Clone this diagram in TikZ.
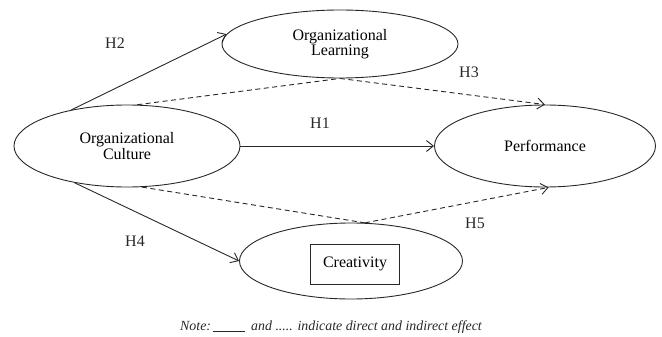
\documentclass[tikz,border=0pt]{standalone}
\usepackage{fontspec}
\setmainfont{Liberation Serif}
\usepackage{xcolor}
\usetikzlibrary{positioning,shapes.geometric,arrows.meta}
\definecolor{inkgray}{RGB}{40, 40, 40}

\begin{document}
\begin{tikzpicture}[x=1pt, y=-1pt]
\tikzset{
  construct/.style={ellipse, draw=inkgray, line width=0.9pt, inner sep=0pt,
    align=center, font=\fontsize{16}{15.5}\selectfont},
  innerbox/.style={rectangle, draw=inkgray, line width=0.9pt,
    minimum width=89pt, minimum height=40pt, font=\fontsize{16}{15.5}\selectfont},
  direct/.style={-{Straight Barb[length=7pt,width=11pt]}, line width=0.9pt, inkgray},
  indirect/.style={line width=0.9pt, inkgray, dash pattern=on 5pt off 3.5pt},
  hyp/.style={font=\fontsize{16}{16}\selectfont, text=inkgray}
}
\useasboundingbox (0,0) rectangle (662,337);
\node[construct, minimum width=236pt, minimum height=68pt] (olearn) at (340,44) {Organizational\\Learning};
\node[construct, minimum width=226pt, minimum height=82pt] (oculture) at (127,146) {Organizational\\Culture};
\node[construct, minimum width=221pt, minimum height=82pt] (perf) at (545,146) {Performance};
\node[construct, minimum width=223pt, minimum height=76pt] (creat) at (351,261) {};
\node[innerbox] (creatbox) at (355,264) {Creativity};
% direct paths
\draw[direct] (oculture.147) -- (olearn.175);
\draw[direct] (oculture.east) -- (perf.west);
\draw[direct] (oculture.-145) -- (creat.west);
% indirect paths through the mediators
\coordinate (jlearn) at (olearn.south);
\coordinate (jcreat) at (creat.70);
\draw[indirect] (oculture.76) -- (jlearn);
\draw[indirect, -{Straight Barb[length=7pt,width=11pt]}] (jlearn) -- (perf.north);
\draw[indirect] (oculture.-70) -- (jcreat);
\draw[indirect, -{Straight Barb[length=7pt,width=11pt]}] (jcreat) -- (perf.-85);
% hypothesis labels
\node[hyp] (h1) at (320,123) {H1};
\node[hyp] (h2) at (115,43) {H2};
\node[hyp] (h3) at (469,72) {H3};
\node[hyp] (h4) at (135,241) {H4};
\node[hyp] (h5) at (475,223) {H5};
\node[font=\fontsize{13.9}{15}\selectfont\itshape, text=inkgray] (note) at (331,327)
  {Note:\,\rule[-1pt]{32pt}{0.6pt}\, and ..... indicate direct and indirect effect};
\end{tikzpicture}
\end{document}
